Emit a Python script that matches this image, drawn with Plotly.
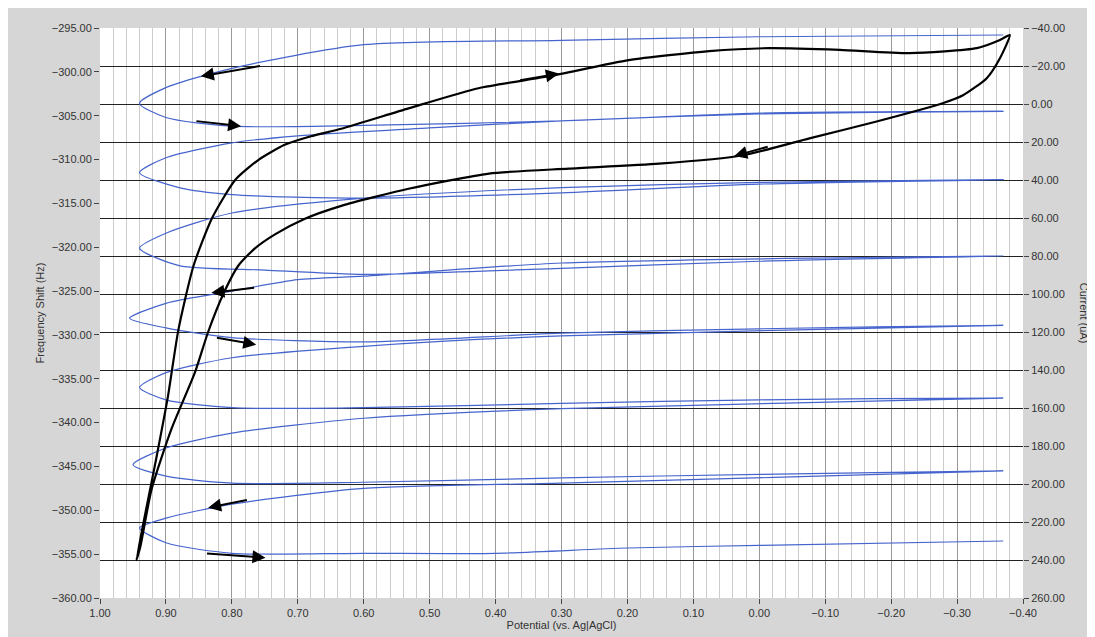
import plotly.graph_objects as go

# frequency shift trace (Hz) vs potential (V)
freq_v = [-0.37, 0.0, 0.3, 0.6, 0.8, 0.9, 0.94, 0.9, 0.8, 0.6, 0.3, 0.0, -0.37,
          0.0, 0.3, 0.5, 0.7, 0.8, 0.9, 0.94, 0.88, 0.8, 0.6, 0.3, 0.0, -0.37,
          0.0, 0.3, 0.6, 0.8, 0.9, 0.94, 0.88, 0.75, 0.6, 0.3, 0.0, -0.37,
          0.3, 0.6, 0.7, 0.8, 0.9, 0.955, 0.9, 0.8, 0.6, 0.3, 0.0, -0.37,
          0.3, 0.6, 0.8, 0.9, 0.94, 0.9, 0.8, 0.6, 0.3, 0.0, -0.37,
          0.3, 0.6, 0.8, 0.9, 0.95, 0.9, 0.8, 0.6, 0.3, 0.0, -0.37,
          0.3, 0.6, 0.8, 0.9, 0.94, 0.9, 0.8, 0.6, 0.4, 0.2, 0.0, -0.37]
freq_hz = [-295.8, -296.0, -296.4, -296.9, -299.6, -301.8, -303.6, -305.2, -306.2, -306.1, -305.6, -304.7, -304.5,
           -304.8, -305.6, -306.4, -307.3, -308.1, -309.8, -311.5, -313.2, -314.0, -314.4, -313.8, -312.8, -312.3,
           -312.6, -313.2, -314.4, -316.1, -318.4, -320.1, -322.1, -322.6, -323.1, -322.4, -321.6, -321.0,
           -321.8, -323.3, -323.7, -325.0, -326.4, -328.1, -329.2, -330.3, -330.8, -329.8, -329.3, -328.9,
           -330.1, -331.3, -332.6, -334.3, -336.0, -337.4, -338.3, -338.3, -337.8, -337.4, -337.2,
           -338.4, -339.5, -341.2, -342.9, -344.8, -346.1, -346.9, -346.8, -346.3, -345.9, -345.5,
           -346.9, -347.5, -349.3, -350.9, -352.0, -353.7, -354.9, -354.9, -354.9, -354.3, -354.0, -353.5]

# current trace (uA) vs potential (V)
cur_v = [0.945, 0.916, 0.897, 0.881, 0.858, 0.830, 0.795, 0.76, 0.72, 0.68, 0.634, 0.532, 0.426, 0.319, 0.198,
         0.076, -0.015, -0.122, -0.228, -0.330, -0.365, -0.380,
         -0.365, -0.345, -0.309, -0.278, -0.178, -0.076, 0.026, 0.152, 0.289, 0.410, 0.532, 0.634,
         0.69, 0.734, 0.765, 0.79, 0.813, 0.836, 0.856, 0.892, 0.922, 0.939, 0.945]
cur_ua = [240.1, 188.9, 154.0, 118.6, 85.0, 60.0, 40.0, 29.5, 21.5, 17.0, 13.0, 2.3, -8.3, -14.6, -23.1,
          -27.8, -29.4, -28.5, -26.8, -29.4, -33.7, -36.3,
          -24.1, -13.6, -4.6, -0.4, 9.2, 18.1, 27.1, 31.4, 34.0, 36.6, 44.6, 53.6,
          60.5, 68.5, 76.0, 85.0, 100.0, 120.0, 141.3, 171.4, 203.1, 233.3, 240.1]

# direction arrows: (tail V, tail Hz, head V, head Hz)
arrows = [(0.755, -299.3, 0.847, -300.5),
          (0.856, -305.6, 0.786, -306.2),
          (0.365, -301.0, 0.304, -300.2),
          (-0.015, -308.5, 0.038, -309.6),
          (0.764, -324.6, 0.831, -325.2),
          (0.825, -330.3, 0.763, -331.1),
          (0.775, -348.8, 0.836, -349.7),
          (0.840, -354.9, 0.749, -355.4)]

fig = go.Figure()
fig.add_trace(go.Scatter(x=freq_v, y=freq_hz, mode='lines', line_shape='spline',
                         line=dict(color='rgb(70,100,205)', width=1.2, smoothing=0.7), yaxis='y'))
fig.add_trace(go.Scatter(x=cur_v, y=cur_ua, mode='lines', line_shape='spline',
                         line=dict(color='black', width=2.2, smoothing=0.6), yaxis='y2'))

for tv, ty, hv, hy in arrows:
    fig.add_annotation(x=hv, y=hy, ax=tv, ay=ty, xref='x', yref='y', axref='x', ayref='y',
                       text='', showarrow=True, arrowhead=2, arrowsize=1.3,
                       arrowwidth=2, arrowcolor='black')

fig.add_annotation(text='Current (uA)', textangle=90, x=1.075, y=0.5, xref='paper', yref='paper',
                   showarrow=False, font=dict(size=11, color='#333'))

tick_font = dict(family='Arial, Liberation Sans', size=11, color='#333')
fig.update_layout(
    width=1095, height=637,
    margin=dict(l=92, r=80, t=20, b=47),
    paper_bgcolor='#d6d6d6', plot_bgcolor='white',
    showlegend=False,
    font=tick_font,
    xaxis=dict(range=[1.0, -0.4], dtick=0.1, tickformat='.2f', ticks='outside', ticklen=5,
               tickcolor='#444', showgrid=True, gridcolor='#999', gridwidth=1,
               minor=dict(dtick=0.02, showgrid=True, gridcolor='#ccc', gridwidth=1),
               zeroline=False, showline=False,
               title=dict(text='Potential (vs. Ag|AgCl)', standoff=2, font=dict(size=11))),
    yaxis=dict(range=[-360, -295], dtick=5, tickformat='.2f', ticks='outside', ticklen=5,
               tickcolor='#444', showgrid=False, zeroline=False,
               title=dict(text='Frequency Shift (Hz)', standoff=4, font=dict(size=11))),
    yaxis2=dict(range=[260, -40], dtick=20, tickformat='.2f', ticks='outside', ticklen=5,
                tickcolor='#444', overlaying='y', side='right', showgrid=True,
                gridcolor='#222', gridwidth=1, zeroline=False),
)

fig.write_html("out.html")
